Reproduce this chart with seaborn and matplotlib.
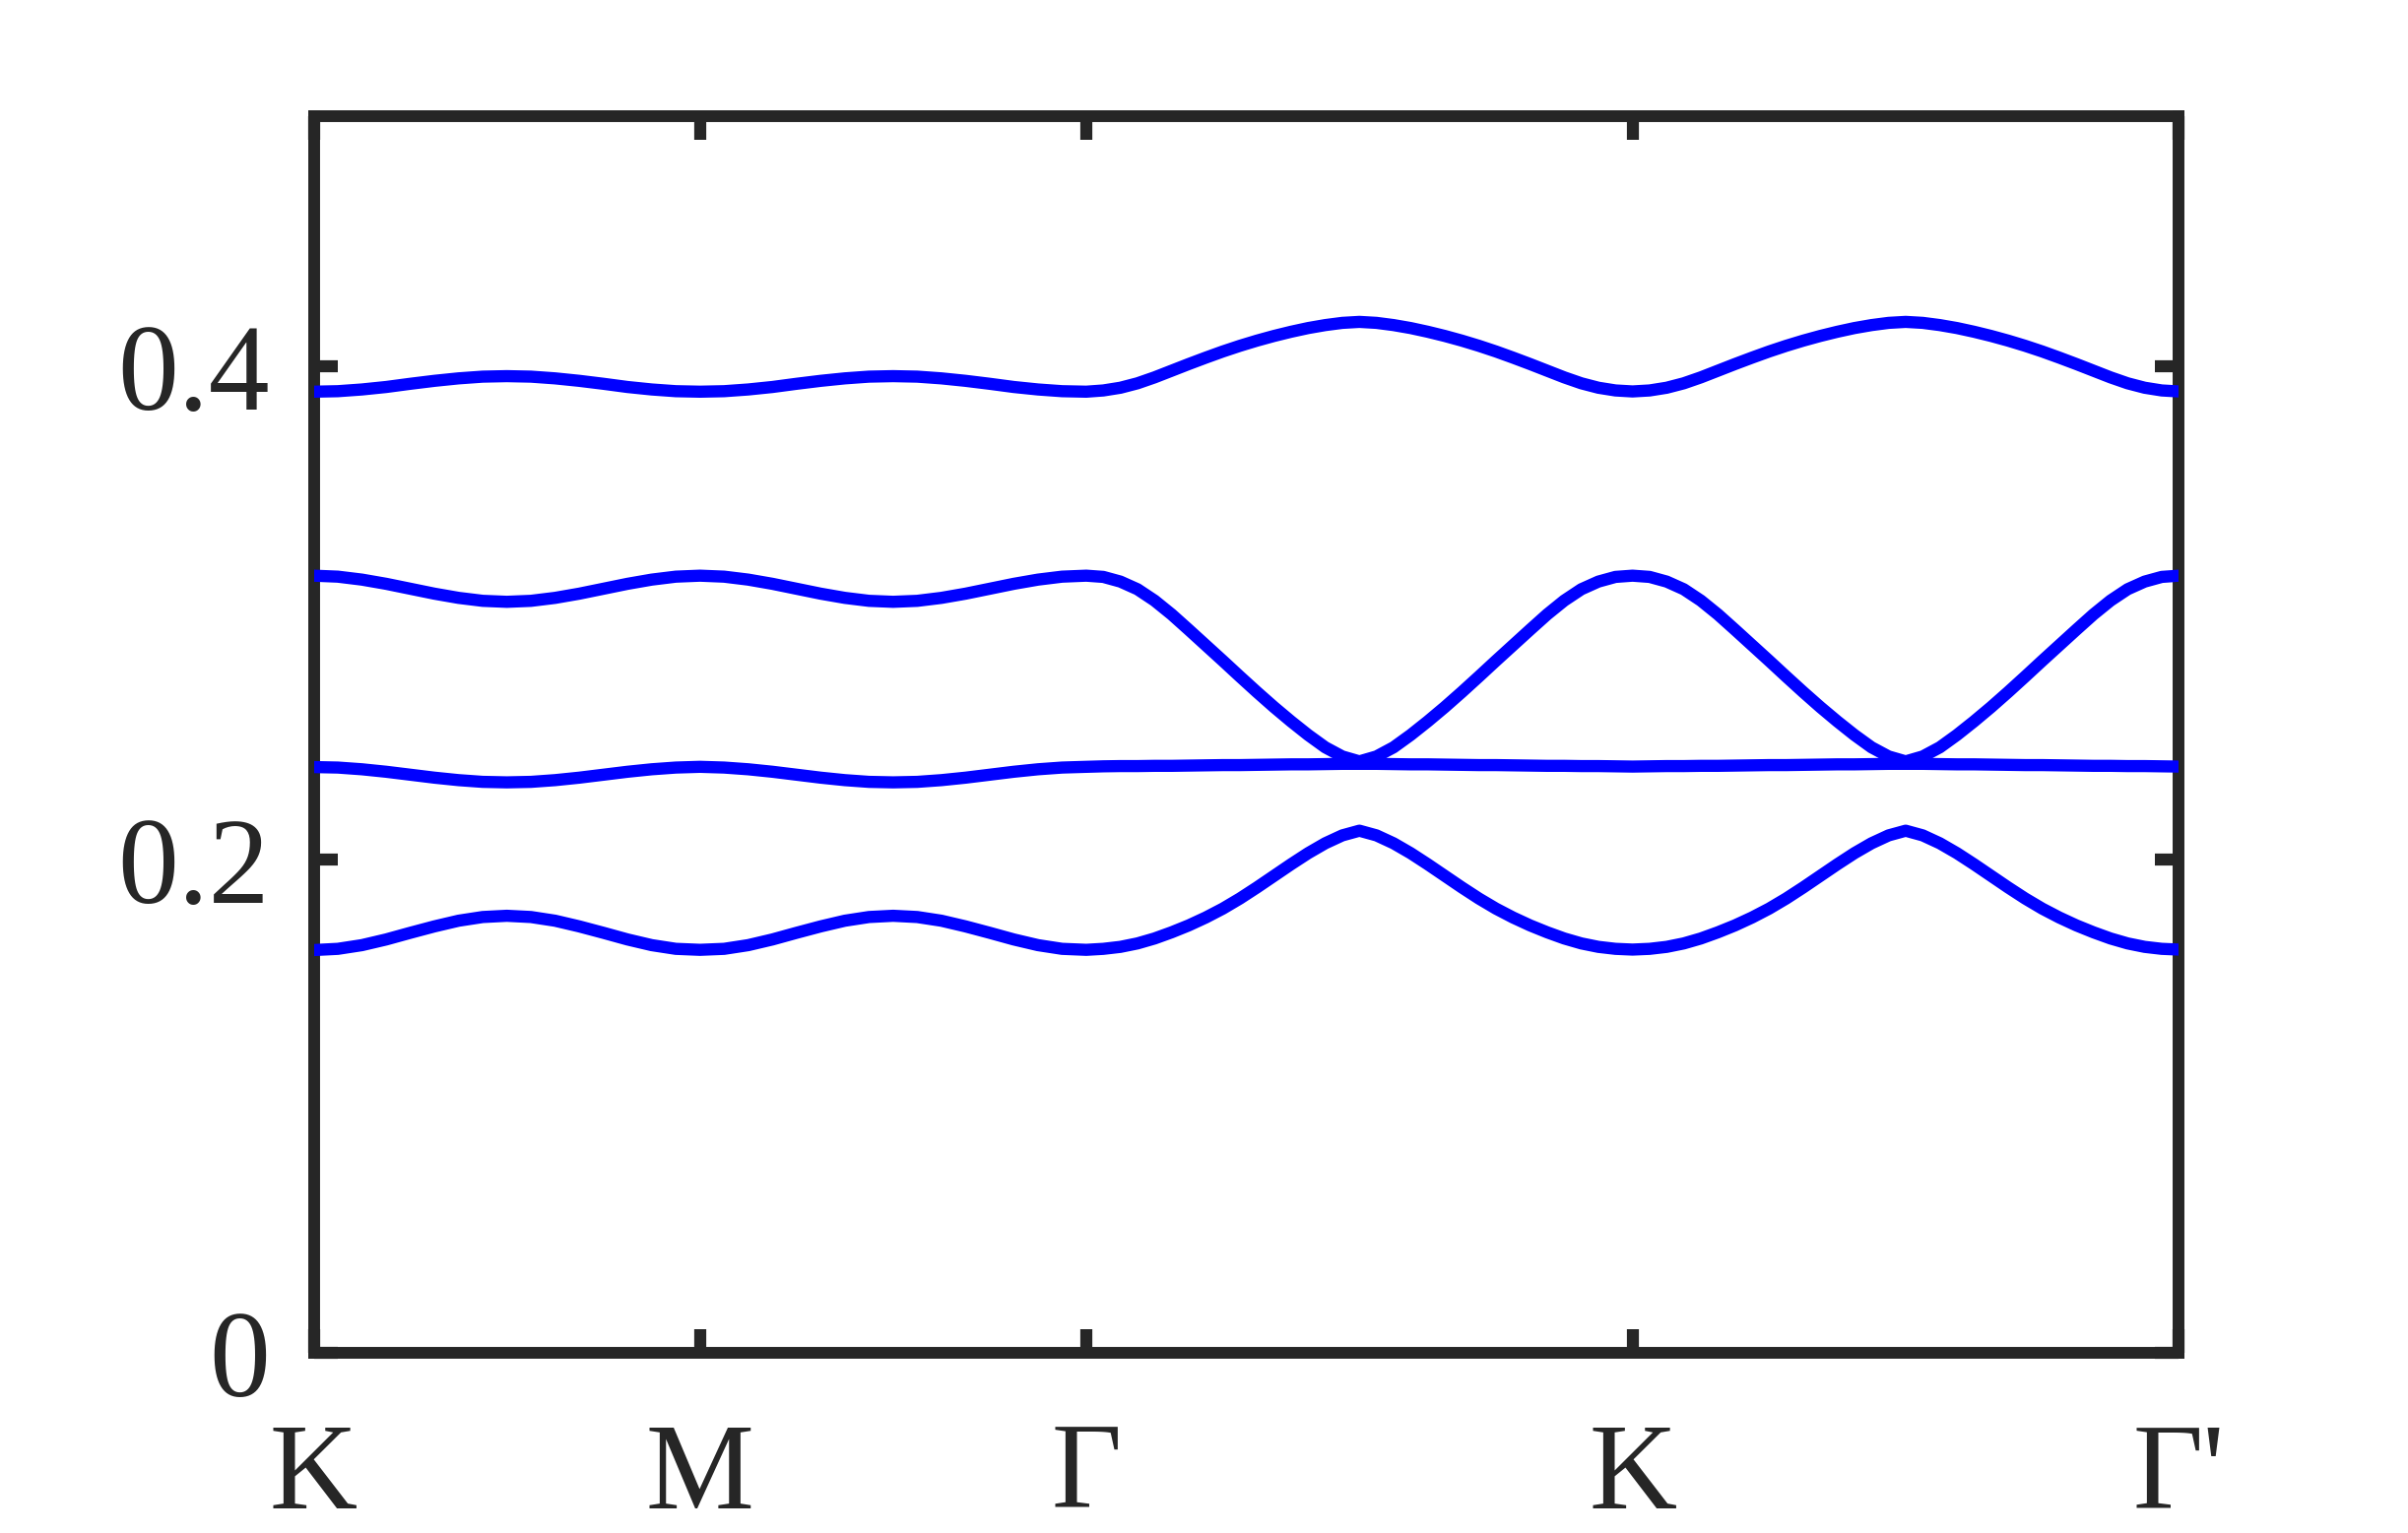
import numpy as np
import pandas as pd
import seaborn as sns
import matplotlib.pyplot as plt

# high-symmetry points along the path
tick_labels = ['K', 'M', 'Γ', 'K', "Γ'"]
tick_pos = [0.0, 1.0, 2.0, 2.0 + np.sqrt(2), 2.0 + 2 * np.sqrt(2)]

# samples: K -> M (same shape again on M -> Γ), 17 points over one unit
n_km = 17
# samples: Γ -> K (same shape again on K -> Γ'), 33 points over sqrt(2)
n_gk = 33

# band values
band1_km = [0.3897, 0.3899, 0.3906, 0.3916, 0.3929, 0.3941, 0.3951, 0.3958, 0.3960,
            0.3958, 0.3951, 0.3941, 0.3929, 0.3916, 0.3906, 0.3899, 0.3897]
band1_gk = [0.3898, 0.3902, 0.3913, 0.3931, 0.3955, 0.3982, 0.4009, 0.4035, 0.4060,
            0.4083, 0.4104, 0.4123, 0.4140, 0.4155, 0.4167, 0.4176, 0.4180,
            0.4176, 0.4167, 0.4155, 0.4140, 0.4123, 0.4104, 0.4083, 0.4060,
            0.4035, 0.4009, 0.3982, 0.3955, 0.3931, 0.3913, 0.3902, 0.3898]

band2_km = [0.3151, 0.3147, 0.3135, 0.3118, 0.3098, 0.3078, 0.3061, 0.3049, 0.3045,
            0.3049, 0.3061, 0.3078, 0.3098, 0.3118, 0.3135, 0.3147, 0.3151]
band2_gk = [0.3151, 0.3146, 0.3127, 0.3096, 0.3050, 0.2994, 0.2932, 0.2869, 0.2806,
            0.2742, 0.2679, 0.2618, 0.2560, 0.2505, 0.2455, 0.2418, 0.2398,
            0.2418, 0.2455, 0.2505, 0.2560, 0.2618, 0.2679, 0.2742, 0.2806,
            0.2869, 0.2932, 0.2994, 0.3050, 0.3096, 0.3127, 0.3146, 0.3151]

band3_km = [0.2375, 0.2373, 0.2366, 0.2356, 0.2344, 0.2332, 0.2322, 0.2315, 0.2313,
            0.2315, 0.2322, 0.2332, 0.2344, 0.2356, 0.2366, 0.2373, 0.2376]
band3_gk = [0.2377, 0.2378, 0.2379, 0.2379, 0.2380, 0.2380, 0.2381, 0.2382, 0.2383,
            0.2383, 0.2384, 0.2385, 0.2386, 0.2386, 0.2387, 0.2388, 0.2388,
            0.2388, 0.2387, 0.2386, 0.2386, 0.2385, 0.2384, 0.2383, 0.2383,
            0.2382, 0.2381, 0.2380, 0.2380, 0.2379, 0.2379, 0.2378, 0.2377]

band4_km = [0.1633, 0.1638, 0.1653, 0.1676, 0.1703, 0.1729, 0.1752, 0.1767, 0.1772,
            0.1767, 0.1752, 0.1729, 0.1703, 0.1676, 0.1653, 0.1638, 0.1634]
band4_gk = [0.1635, 0.1638, 0.1646, 0.1660, 0.1680, 0.1705, 0.1733, 0.1765, 0.1801,
            0.1842, 0.1887, 0.1934, 0.1981, 0.2026, 0.2066, 0.2098, 0.2117,
            0.2098, 0.2066, 0.2026, 0.1981, 0.1934, 0.1887, 0.1842, 0.1801,
            0.1765, 0.1733, 0.1705, 0.1680, 0.1660, 0.1646, 0.1638, 0.1635]

# path coordinate of every sample
k_km = np.linspace(0, 1, n_km)
k_gk = np.linspace(0, np.sqrt(2), n_gk)
k_path = np.concatenate([tick_pos[0] + k_km,
                         tick_pos[1] + k_km[1:],
                         tick_pos[2] + k_gk[1:],
                         tick_pos[3] + k_gk[1:]])

bands = {
    'b1': (band1_km, band1_gk),
    'b2': (band2_km, band2_gk),
    'b3': (band3_km, band3_gk),
    'b4': (band4_km, band4_gk),
}
rows = []
for name, (km, gk) in bands.items():
    vals = list(km) + list(km[1:]) + list(gk[1:]) + list(gk[1:])
    for k, v in zip(k_path, vals):
        rows.append({'k': k, 'freq': v, 'band': name})
df = pd.DataFrame(rows)

sns.set_style('ticks')
plt.rcParams['font.family'] = ['Liberation Serif', 'DejaVu Serif']

dark = '#262626'
fig = plt.figure(figsize=(24.45, 15.57), dpi=100)
ax = fig.add_axes([0.13027, 0.11753, 0.77456, 0.80700])

sns.lineplot(data=df, x='k', y='freq', units='band', estimator=None, sort=False,
             color='#0000ff', linewidth=8.9, ax=ax, zorder=3)

ax.set_xlim(tick_pos[0], tick_pos[-1])
ax.set_ylim(0, 0.5016)
ax.set_xticks(tick_pos)
ax.set_xticklabels(tick_labels)
ax.set_yticks([0, 0.2, 0.4])
ax.set_yticklabels(['0', '0.2', '0.4'])
ax.set_xlabel('')
ax.set_ylabel('')

for s in ax.spines.values():
    s.set_visible(True)
    s.set_linewidth(8.6)
    s.set_color(dark)

ax.tick_params(axis='both', direction='in', length=17.5, width=8.8, colors=dark,
               top=True, right=True, labelsize=89)
ax.tick_params(axis='x', pad=51)
ax.tick_params(axis='y', pad=32)

fig.savefig('out.png', dpi=100)
